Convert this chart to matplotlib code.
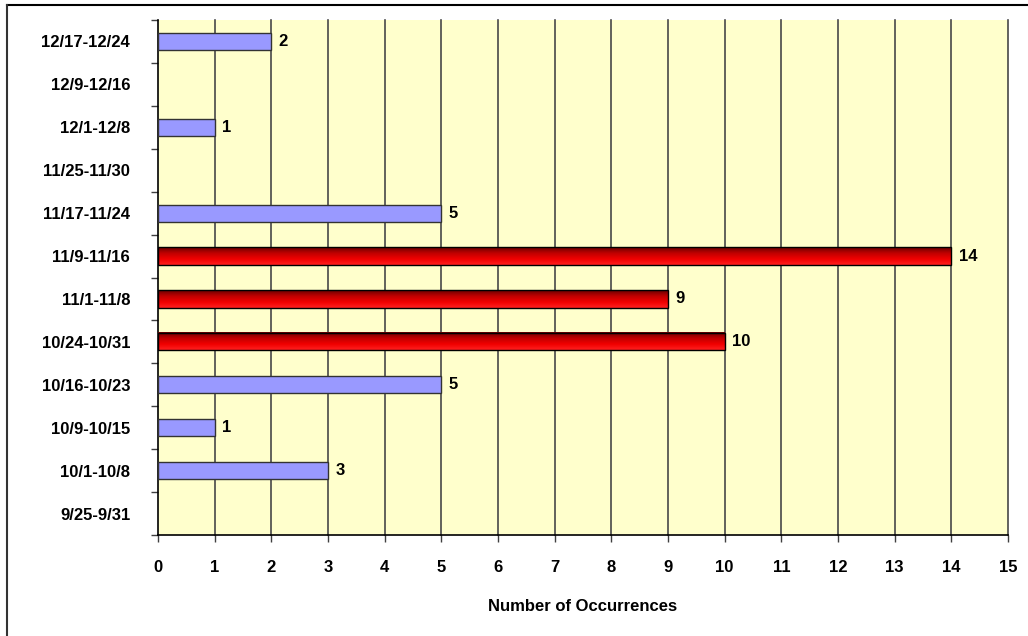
import matplotlib
matplotlib.use("Agg")
import matplotlib.pyplot as plt
import numpy as np
from matplotlib.colors import LinearSegmentedColormap
from matplotlib.lines import Line2D

categories = ["9/25-9/31", "10/1-10/8", "10/9-10/15", "10/16-10/23", "10/24-10/31",
              "11/1-11/8", "11/9-11/16", "11/17-11/24", "11/25-11/30", "12/1-12/8",
              "12/9-12/16", "12/17-12/24"]
counts = [0, 3, 1, 5, 10, 9, 14, 5, 0, 1, 0, 2]
highlighted = ["10/24-10/31", "11/1-11/8", "11/9-11/16"]
x_ticks = list(range(0, 16))
x_label = "Number of Occurrences"

plt.rcParams['font.family'] = ['Liberation Sans', 'DejaVu Sans']
plt.rcParams['font.weight'] = 'bold'
FS = 12

fig = plt.figure(figsize=(10.28, 6.36), dpi=100)
ax = fig.add_axes([158/1028, 1-535/636, (1008-158)/1028, (535-20)/636])
ax.set_facecolor("#FFFFCC")

ypos = np.arange(len(categories))
bar_h = 0.4
red_cmap = LinearSegmentedColormap.from_list("redgrad", ["#FF2020", "#F00000", "#C00000", "#6A0000"])
grad = np.linspace(0, 1, 64).reshape(-1, 1)

for y, cat, v in zip(ypos, categories, counts):
    if v == 0:
        continue
    if cat in highlighted:
        ax.imshow(grad, cmap=red_cmap, aspect='auto',
                  extent=[0, v, y + bar_h/2, y - bar_h/2], origin='upper', zorder=3,
                  interpolation='bilinear')
        ax.barh(y, v, height=bar_h, facecolor='none', edgecolor='black', linewidth=1.0, zorder=4)
    else:
        ax.barh(y, v, height=bar_h, color="#9999FF", edgecolor="#333333", linewidth=1.0, zorder=4)
    ax.text(v + 0.13, y, str(v), va='center', ha='left', fontsize=FS,
            fontweight='bold', zorder=5)

ax.set_xlim(0, 15)
ax.set_ylim(-0.5, len(categories) - 0.5)

for xv in x_ticks[1:]:
    ax.axvline(xv, color="#484848", linewidth=1.2, zorder=1, clip_on=False)

ax.set_xticks(x_ticks)
ax.set_xticklabels([str(t) for t in x_ticks], fontsize=FS, fontweight='bold')
ax.tick_params(axis='x', direction='out', length=5, width=1, pad=13, color='#404040')

ax.set_yticks(ypos)
ax.set_yticklabels(categories, fontsize=FS, fontweight='bold')
ax.set_yticks(np.arange(-0.5, len(categories)), minor=True)
ax.tick_params(axis='y', which='major', length=0, pad=20)
ax.tick_params(axis='y', which='minor', direction='out', length=5, width=1, color='#404040')

ax.set_xlabel(x_label, fontsize=FS, fontweight='bold', labelpad=17)

for s in ['top', 'right']:
    ax.spines[s].set_visible(False)
ax.spines['left'].set_color('black')
ax.spines['bottom'].set_color('black')
ax.spines['left'].set_linewidth(1.2)
ax.spines['bottom'].set_linewidth(1.2)

# figure border (top and left visible)
fig.add_artist(Line2D([6.5/1028, 1.0], [1-5/636, 1-5/636], color='black', linewidth=1.5,
                      transform=fig.transFigure))
fig.add_artist(Line2D([6.5/1028, 6.5/1028], [0, 1-5/636], color='#333333', linewidth=1.5,
                      transform=fig.transFigure))

fig.savefig("out.png", dpi=100)
